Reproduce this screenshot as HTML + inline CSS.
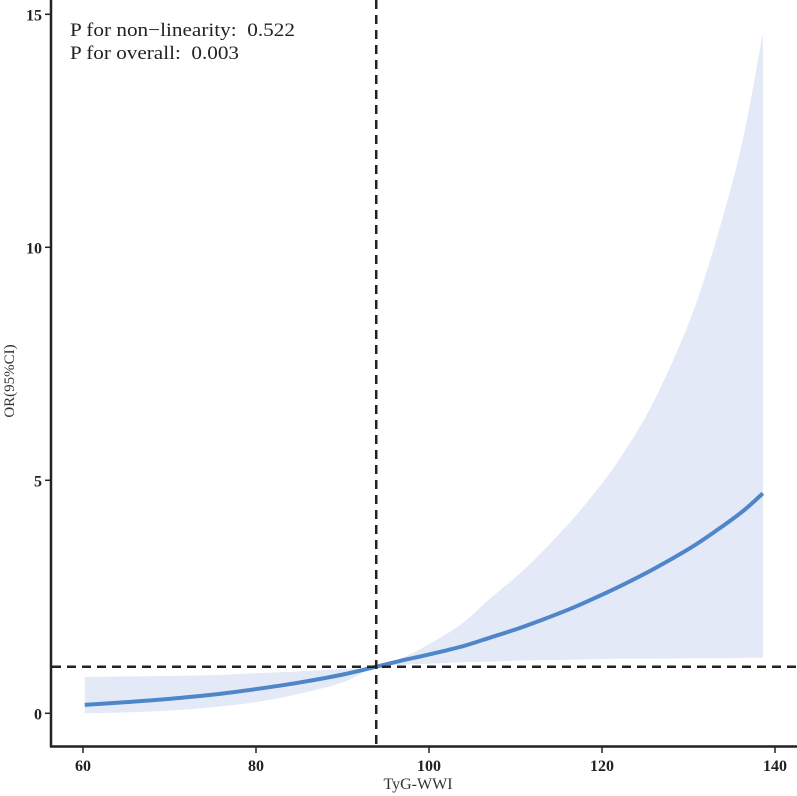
<!DOCTYPE html>
<html><head><meta charset="utf-8"><style>
body{margin:0;background:#fff}
svg{display:block;font-family:"Liberation Serif",serif}
</style></head><body>
<svg id="chart" width="797" height="796">
<text x="70" y="36" font-size="19" fill="#222" textLength="225" lengthAdjust="spacingAndGlyphs" style="white-space:pre">P for non−linearity:  0.522</text>
<text x="70" y="59" font-size="19" fill="#222" textLength="169" lengthAdjust="spacingAndGlyphs" style="white-space:pre">P for overall:  0.003</text>
<text transform="translate(14,381) rotate(-90)" text-anchor="middle" font-size="15" fill="#333">OR(95%CI)</text>
<text x="418" y="789" text-anchor="middle" font-size="16" fill="#333">TyG-WWI</text>
</svg>
<script>
const xs   =[60.2,65,70,75,80,85,90,93.9,97,99,102,104.3,107,110.5,113,116.3,119,122,126,130.5,134.2,136.5,138.6];
const mid  =[0.18,0.24,0.31,0.40,0.52,0.66,0.83,1.0,1.14,1.22,1.35,1.46,1.62,1.83,2.0,2.24,2.46,2.72,3.1,3.58,4.05,4.37,4.72];
const upper=[0.78,0.79,0.80,0.82,0.86,0.90,0.95,1.0,1.2,1.38,1.7,2.0,2.45,3.0,3.45,4.1,4.7,5.45,6.7,8.6,10.8,12.5,14.6];
const lower=[0.0,0.02,0.06,0.13,0.24,0.42,0.66,1.0,1.04,1.06,1.08,1.10,1.11,1.13,1.14,1.15,1.16,1.17,1.17,1.18,1.18,1.19,1.19];
const xTicks=[60,80,100,120,140];
const yTicks=[0,5,10,15];
const refX=93.9, refY=1;
const X=v=>83+(v-60)*8.65;
const Y=v=>713.3-v*46.6;
const svg=document.getElementById('chart');
const NS='http://www.w3.org/2000/svg';
function mk(t,a){const e=document.createElementNS(NS,t);for(const k in a)e.setAttribute(k,a[k]);svg.appendChild(e);return e;}
function smooth(pts){
 let d='';
 for(let i=0;i<pts.length-1;i++){
  const p0=pts[Math.max(0,i-1)],p1=pts[i],p2=pts[i+1],p3=pts[Math.min(pts.length-1,i+2)];
  const c1=[p1[0]+(p2[0]-p0[0])/6,p1[1]+(p2[1]-p0[1])/6];
  const c2=[p2[0]-(p3[0]-p1[0])/6,p2[1]-(p3[1]-p1[1])/6];
  d+='C'+c1+' '+c2+' '+p2;
 }
 return d;
}
const up=xs.map((x,i)=>[X(x),Y(upper[i])]);
const lo=xs.map((x,i)=>[X(x),Y(lower[i])]).reverse();
const md=xs.map((x,i)=>[X(x),Y(mid[i])]);
const band=mk('path',{d:'M'+up[0]+smooth(up)+'L'+lo[0]+smooth(lo)+'Z',fill:'#e3e9f6'});


const line=mk('path',{d:'M'+md[0]+smooth(md),fill:'none',stroke:'#4f86c9','stroke-width':4});


const vr=mk('line',{x1:X(refX),x2:X(refX),y1:0,y2:747,stroke:'#222','stroke-width':2.5,'stroke-dasharray':'9,6'});


const hr=mk('line',{x1:52,x2:797,y1:Y(refY),y2:Y(refY),stroke:'#222','stroke-width':2.5,'stroke-dasharray':'9,6'});


const ya=mk('line',{x1:51,x2:51,y1:0,y2:747,stroke:'#222','stroke-width':2.5});


const xa=mk('line',{x1:50,x2:797,y1:746.5,y2:746.5,stroke:'#222','stroke-width':2.5});


xTicks.forEach(v=>{
 const t=mk('line',{x1:X(v),x2:X(v),y1:747,y2:753,stroke:'#222','stroke-width':1.5});
 
 
 const l=mk('text',{x:X(v),y:771,'text-anchor':'middle','font-size':16,'font-weight':'bold',fill:'#222'});
 l.textContent=v;
 
 
});
yTicks.forEach(v=>{
 const t=mk('line',{x1:45,x2:51,y1:Y(v),y2:Y(v),stroke:'#222','stroke-width':1.5});
 
 
 const l=mk('text',{x:42,y:Y(v)+6,'text-anchor':'end','font-size':16,'font-weight':'bold',fill:'#222'});
 l.textContent=v;
 
 
});
</script>
</body></html>
